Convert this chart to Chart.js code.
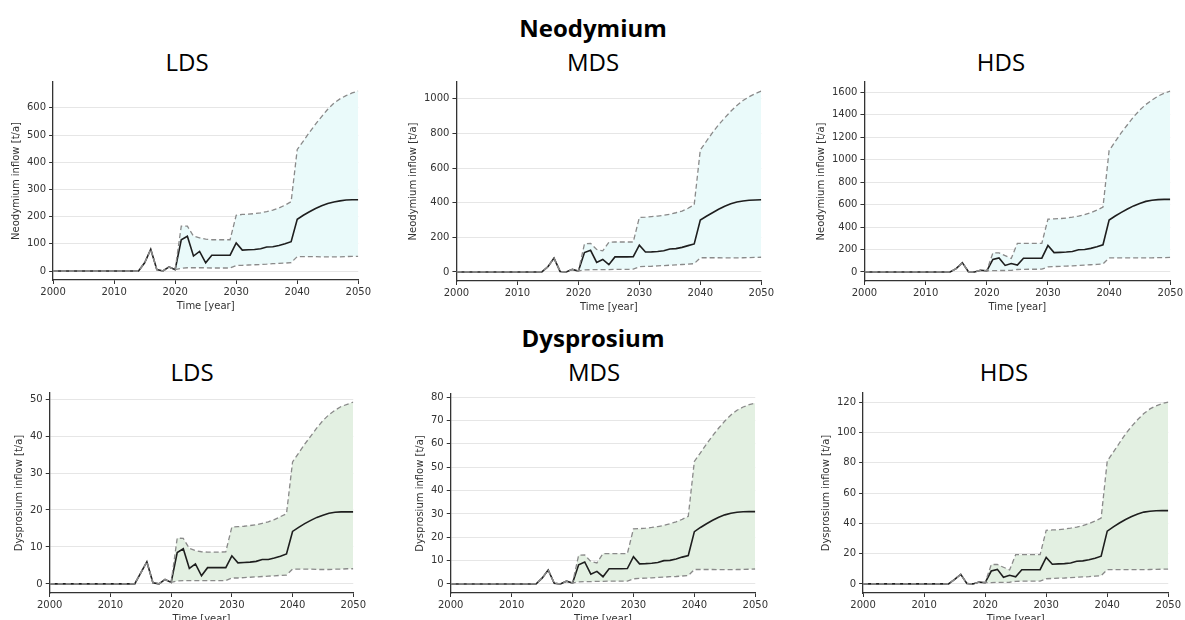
<!DOCTYPE html>
<html><head><meta charset="utf-8">
<script src="https://cdn.jsdelivr.net/npm/chart.js@4"></script>
<style>
body{margin:0;width:1185px;height:620px;background:#fff;position:relative;overflow:hidden;font-family:'Open Sans',sans-serif}
.t{position:absolute;transform:translateX(-50%);white-space:nowrap;color:#000;line-height:1;font-size:24px}
.b{font-weight:bold}
.box{position:absolute;left:0;top:0}
.box canvas{display:block}
</style></head><body>
<div class="t b" style="left:593px;top:16px">Neodymium</div>
<div class="t" style="left:187px;top:50px">LDS</div>
<div class="t" style="left:593px;top:50px">MDS</div>
<div class="t" style="left:1001px;top:50px">HDS</div>
<div class="t b" style="left:593px;top:326px">Dysprosium</div>
<div class="t" style="left:192px;top:360px">LDS</div>
<div class="t" style="left:594px;top:360px">MDS</div>
<div class="t" style="left:1004px;top:360px">HDS</div>

<div class="box" id="b1"></div>
<div class="box" id="b2"></div>
<div class="box" id="b3"></div>
<div class="box" id="b4"></div>
<div class="box" id="b5"></div>
<div class="box" id="b6"></div>
<script>
const years = [2000,2001,2002,2003,2004,2005,2006,2007,2008,2009,2010,2011,2012,2013,2014,2015,2016,2017,2018,2019,2020,2021,2022,2023,2024,2025,2026,2027,2028,2029,2030,2031,2032,2033,2034,2035,2036,2037,2038,2039,2040,2041,2042,2043,2044,2045,2046,2047,2048,2049,2050];
const xTicks = [2000,2010,2020,2030,2040,2050];

// Neodymium LDS
const ndLdsMean  = [0,0,0,0,0,0,0,0,0,0,0,0,0,0, 0,30,80,5,0,15,5, 115,128,55,72,30,58,58,58,58, 103,77,78,79,82,88,89,94,100,108, 190,205,218,230,240,248,254,258,261,262,262];
const ndLdsUpper = [0,0,0,0,0,0,0,0,0,0,0,0,0,0, 0,30,80,5,0,15,5, 165,165,128,122,117,115,115,115,115, 205,208,209,211,214,218,224,232,242,255, 447,478,510,540,568,595,617,633,645,655,662];
const ndLdsLower = [0,0,0,0,0,0,0,0,0,0,0,0,0,0, 0,30,80,5,0,15,5, 10,12,12,12,12,11,11,11,11, 20,21,22,23,24,25,27,28,29,31, 53,53,53,53,52,52,52,52,53,54,54];
const ndLdsTicks = [0,100,200,300,400,500,600];

// Neodymium MDS
const ndMdsMean  = [0,0,0,0,0,0,0,0,0,0,0,0,0,0, 0,30,80,3,0,15,5, 112,125,55,72,42,87,87,87,88, 155,115,116,118,122,133,135,142,152,162, 300,322,342,362,380,394,404,410,414,416,417];
const ndMdsUpper = [0,0,0,0,0,0,0,0,0,0,0,0,0,0, 0,30,80,3,0,15,5, 162,165,130,122,172,173,173,173,173, 315,317,320,323,327,333,342,352,368,388, 705,755,805,850,890,928,962,990,1012,1030,1045];
const ndMdsLower = [0,0,0,0,0,0,0,0,0,0,0,0,0,0, 0,30,80,3,0,15,5, 12,13,13,14,14,15,15,15,16, 30,32,33,35,37,39,41,43,45,48, 82,82,82,82,81,81,81,82,83,84,85];
const ndMdsTicks = [0,200,400,600,800,1000];

// Neodymium HDS
const ndHdsMean  = [0,0,0,0,0,0,0,0,0,0,0,0,0,0, 0,30,83,3,0,15,10, 112,125,58,75,62,122,122,122,123, 235,172,174,177,182,198,200,210,225,242, 462,498,530,560,588,610,628,638,644,646,646];
const ndHdsUpper = [0,0,0,0,0,0,0,0,0,0,0,0,0,0, 0,30,83,3,0,15,10, 170,170,145,120,255,255,255,255,255, 470,472,475,480,487,497,510,528,550,578, 1080,1160,1240,1310,1380,1440,1490,1530,1565,1590,1610];
const ndHdsLower = [0,0,0,0,0,0,0,0,0,0,0,0,0,0, 0,30,83,3,0,15,10, 12,13,13,14,22,23,24,24,25, 45,48,50,52,55,58,61,64,67,72, 125,125,125,125,125,125,125,126,127,128,130];
const ndHdsTicks = [0,200,400,600,800,1000,1200,1400,1600];

// Dysprosium LDS
const dyLdsMean  = [0,0,0,0,0,0,0,0,0,0,0,0,0,0, 0,3,6,0.3,0,1.2,0.4, 8.5,9.5,4.2,5.4,2.2,4.4,4.4,4.4,4.4, 7.6,5.7,5.8,5.9,6.1,6.6,6.6,7.0,7.5,8.1, 14.2,15.3,16.3,17.2,18.0,18.6,19.1,19.4,19.5,19.5,19.5];
const dyLdsUpper = [0,0,0,0,0,0,0,0,0,0,0,0,0,0, 0,3,6,0.3,0,1.2,0.4, 12.4,12.3,9.6,9.0,8.7,8.6,8.6,8.6,8.7, 15.4,15.5,15.6,15.8,16.0,16.4,16.8,17.4,18.2,19.0, 33.0,35.4,37.8,40.0,42.2,44.2,45.8,47.0,48.0,48.6,49.2];
const dyLdsLower = [0,0,0,0,0,0,0,0,0,0,0,0,0,0, 0,3,6,0.3,0,1.2,0.4, 0.8,0.9,0.9,0.9,0.9,0.9,0.9,0.9,0.9, 1.6,1.6,1.7,1.8,1.9,2.0,2.1,2.2,2.3,2.4, 4.0,4.0,4.0,4.0,3.9,3.9,3.9,4.0,4.0,4.1,4.1];
const dyLdsTicks = [0,10,20,30,40,50];

// Dysprosium MDS
const dyMdsMean  = [0,0,0,0,0,0,0,0,0,0,0,0,0,0, 0,2.5,6.0,0.3,0,1.2,0.4, 8.2,9.4,4.2,5.4,3.1,6.5,6.5,6.5,6.6, 11.7,8.6,8.7,8.9,9.2,10.0,10.1,10.7,11.5,12.2, 22.4,24.2,25.8,27.3,28.6,29.6,30.3,30.7,30.9,31.0,31.0];
const dyMdsUpper = [0,0,0,0,0,0,0,0,0,0,0,0,0,0, 0,2.5,6.0,0.3,0,1.2,0.4, 12.3,12.4,9.6,9.0,13.0,13.0,13.0,13.0,13.0, 23.6,23.7,23.9,24.2,24.6,25.1,25.8,26.6,27.7,29.0, 52.5,56.2,60.0,63.5,66.8,69.8,72.4,74.4,75.8,76.8,77.5];
const dyMdsLower = [0,0,0,0,0,0,0,0,0,0,0,0,0,0, 0,2.5,6.0,0.3,0,1.2,0.4, 0.9,1.0,1.0,1.1,1.1,1.2,1.2,1.2,1.2, 2.2,2.4,2.5,2.6,2.8,2.9,3.1,3.2,3.4,3.6, 6.2,6.2,6.2,6.2,6.1,6.1,6.1,6.2,6.2,6.3,6.4];
const dyMdsTicks = [0,10,20,30,40,50,60,70,80];

// Dysprosium HDS
const dyHdsMean  = [0,0,0,0,0,0,0,0,0,0,0,0,0,0, 0,3,6.3,0.3,0,1.2,0.8, 8.5,9.6,4.4,5.7,4.7,9.3,9.3,9.3,9.4, 17.5,13.0,13.2,13.4,13.8,15.0,15.2,16.0,17.0,18.3, 34.8,37.6,40.2,42.5,44.5,46.2,47.4,48.0,48.3,48.4,48.4];
const dyHdsUpper = [0,0,0,0,0,0,0,0,0,0,0,0,0,0, 0,3,6.3,0.3,0,1.2,0.8, 12.8,12.8,11.0,9.2,19.3,19.3,19.3,19.3,19.3, 35.4,35.6,35.8,36.2,36.8,37.5,38.5,39.8,41.5,43.5, 81,87,93,99,104,108.5,112.5,115.5,117.5,119,120];
const dyHdsLower = [0,0,0,0,0,0,0,0,0,0,0,0,0,0, 0,3,6.3,0.3,0,1.2,0.8, 0.9,1.0,1.0,1.1,1.7,1.8,1.8,1.9,1.9, 3.4,3.6,3.8,3.9,4.1,4.4,4.6,4.8,5.1,5.4, 9.4,9.4,9.4,9.4,9.4,9.4,9.4,9.5,9.6,9.7,9.8];
const dyHdsTicks = [0,20,40,60,80,100,120];

const ndLabel = 'Neodymium inflow [t/a]';
const dyLabel = 'Dysprosium inflow [t/a]';
const xLabel = 'Time [year]';
const ndFill = '#eafafa';
const dyFill = '#e3f0e2';

const panels = [
  {id:1, mean:ndLdsMean, upper:ndLdsUpper, lower:ndLdsLower, ticks:ndLdsTicks, label:ndLabel, fill:ndFill, area:{l:53,t:82,r:358,b:280}},
  {id:2, mean:ndMdsMean, upper:ndMdsUpper, lower:ndMdsLower, ticks:ndMdsTicks, label:ndLabel, fill:ndFill, area:{l:456,t:82,r:761,b:281}},
  {id:3, mean:ndHdsMean, upper:ndHdsUpper, lower:ndHdsLower, ticks:ndHdsTicks, label:ndLabel, fill:ndFill, area:{l:864,t:82,r:1170,b:281}},
  {id:4, mean:dyLdsMean, upper:dyLdsUpper, lower:dyLdsLower, ticks:dyLdsTicks, label:dyLabel, fill:dyFill, area:{l:50,t:393,r:354,b:593}},
  {id:5, mean:dyMdsMean, upper:dyMdsUpper, lower:dyMdsLower, ticks:dyMdsTicks, label:dyLabel, fill:dyFill, area:{l:451,t:394,r:756,b:593}},
  {id:6, mean:dyHdsMean, upper:dyHdsUpper, lower:dyHdsLower, ticks:dyHdsTicks, label:dyLabel, fill:dyFill, area:{l:863,t:393,r:1168,b:593}}
];

const axisFont = {family:'DejaVu Sans', size:10};
const axisColor = '#333';

function pts(vals){ return years.map((y,i)=>({x:y, y:vals[i]})); }

function build(p, w, h){
  const box = document.getElementById('b'+p.id);
  box.innerHTML = '';
  const canvas = document.createElement('canvas');
  canvas.width = w; canvas.height = h;
  canvas.style.width = w+'px'; canvas.style.height = h+'px';
  box.appendChild(canvas);
  const all = p.upper.concat(p.lower, p.mean);
  const lo = Math.min(...all), hi = Math.max(...all);
  const m = 0.05*(hi-lo);
  return new Chart(canvas, {
    type:'line',
    data:{datasets:[
      {data:pts(p.upper), borderColor:'#8a8a8a', borderWidth:1.3, borderDash:[5,3], pointRadius:0, fill:'+1', backgroundColor:p.fill, order:1},
      {data:pts(p.lower), borderColor:'#8a8a8a', borderWidth:1.3, borderDash:[5,3], pointRadius:0, fill:false, order:1},
      {data:pts(p.mean), borderColor:'#1e1e1e', borderWidth:1.6, pointRadius:0, fill:false, order:2}
    ]},
    options:{
      responsive:false, animation:false, devicePixelRatio:1,
      layout:{padding:0},
      plugins:{legend:{display:false}, tooltip:{enabled:false}, filler:{drawTime:'beforeDatasetsDraw'}},
      scales:{
        x:{type:'linear', min:2000, max:2050,
           afterBuildTicks:s=>{ s.ticks = xTicks.map(v=>({value:v})); },
           ticks:{font:axisFont, color:axisColor, padding:2, maxRotation:0, callback:v=>String(v)},
           grid:{drawOnChartArea:false, drawTicks:true, tickLength:4, tickColor:axisColor, tickWidth:1},
           border:{display:true, color:axisColor, width:1.3},
           title:{display:true, text:xLabel, font:axisFont, color:axisColor, padding:{top:0,bottom:0}}},
        y:{type:'linear', min:lo-m, max:hi+m,
           afterBuildTicks:s=>{ s.ticks = p.ticks.map(v=>({value:v})); },
           ticks:{font:axisFont, color:axisColor, padding:3, callback:v=>String(v)},
           grid:{color:'#e6e6e6', lineWidth:1, drawTicks:true, tickLength:4, tickColor:axisColor, tickWidth:1},
           border:{display:true, color:axisColor, width:1.3},
           title:{display:true, text:p.label, font:axisFont, color:axisColor, padding:{top:0,bottom:2}}}
      }
    }
  });
}

panels.forEach(p => {
  let w = 400, h = 260;
  let chart = build(p, w, h);
  for (let k=0;k<2;k++){
    const ca = chart.chartArea;
    const ml = ca.left, mt = ca.top, mr = chart.width - ca.right, mb = chart.height - ca.bottom;
    w = Math.round((p.area.r - p.area.l) + ml + mr);
    h = Math.round((p.area.b - p.area.t) + mt + mb);
    const box = document.getElementById('b'+p.id);
    box.style.left = Math.round(p.area.l - ml) + 'px';
    box.style.top = Math.round(p.area.t - mt) + 'px';
    chart.destroy();
    chart = build(p, w, h);
  }
});
</script>
</body></html>
